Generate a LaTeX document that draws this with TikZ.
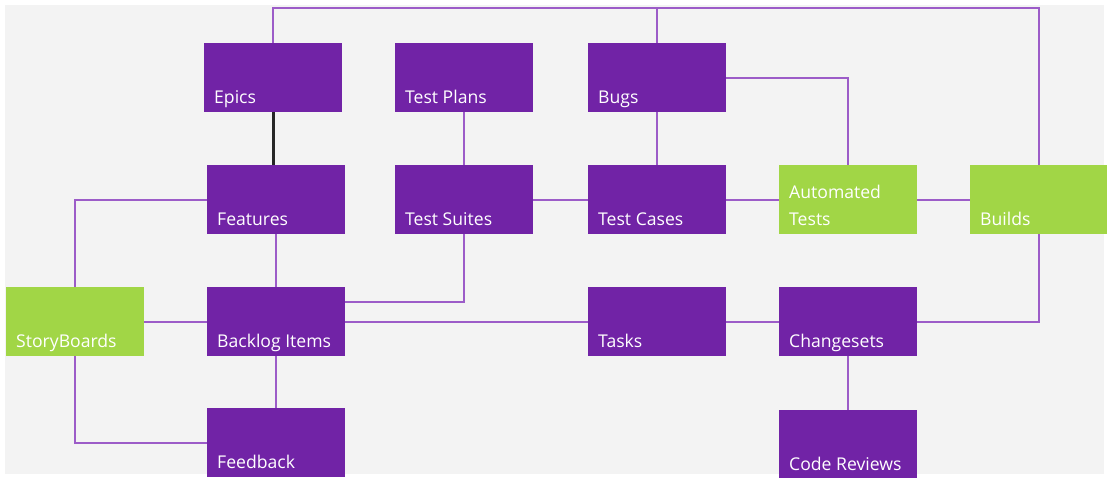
\documentclass[tikz,border=0pt]{standalone}
\usepackage{fontspec}
\setmainfont{Open Sans}
\definecolor{boxpurple}{RGB}{113,35,166}
\definecolor{boxgreen}{RGB}{161,214,70}
\definecolor{linepurple}{RGB}{156,92,200}
\definecolor{bggray}{RGB}{243,243,243}
\begin{document}
\begin{tikzpicture}[x=1pt,y=-1pt,
  box/.style={rectangle, minimum width=138pt, minimum height=69pt, inner sep=0pt, anchor=north west, fill=boxpurple},
  gbox/.style={box, fill=boxgreen},
  lbl/.style={anchor=base west, xshift=10pt, yshift=9pt, inner sep=0pt, text=white, font=\fontsize{17.6}{27}\selectfont, align=left},
  conn/.style={draw=linepurple, line width=2pt},
  blackconn/.style={draw=black!85, line width=3pt}]
\useasboundingbox (0,0) rectangle (1107,478);
\fill[white] (0,0) rectangle (1107,478);
\fill[bggray] (5,5) rectangle (1104,474);
% boxes
\node[box, label={[lbl]south west:Epics}] (epics) at (204,43) {};
\node[box, label={[lbl]south west:Test Plans}] (testplans) at (395,43) {};
\node[box, label={[lbl]south west:Bugs}] (bugs) at (588,43) {};
\node[box, label={[lbl]south west:Features}] (features) at (207,165) {};
\node[box, label={[lbl]south west:Test Suites}] (testsuites) at (395,165) {};
\node[box, label={[lbl]south west:Test Cases}] (testcases) at (588,165) {};
\node[gbox, label={[lbl]south west:Automated\\Tests}] (automated) at (779,165) {};
\node[gbox, label={[lbl]south west:Builds}] (builds) at (970,165) {};
\node[gbox, label={[lbl]south west:StoryBoards}] (storyboards) at (6,287) {};
\node[box, label={[lbl]south west:Backlog Items}] (backlog) at (207,287) {};
\node[box, label={[lbl]south west:Tasks}] (tasks) at (588,287) {};
\node[box, label={[lbl]south west:Changesets}] (changesets) at (779,287) {};
\node[box, label={[lbl]south west:Feedback}] (feedback) at (207,408) {};
\node[box, label={[lbl]south west:Code Reviews}] (codereviews) at (779,410) {};
\coordinate (top) at (0,8);
% connectors
\draw[conn] (epics.north) |- (builds.north |- top) -- (builds.north);
\draw[conn] (bugs.north) -- (bugs.north |- top);
\draw[blackconn] (epics.south) -- (epics.south |- features.north);
\draw[conn] (features.west) -| (storyboards.north);
\draw[conn] (features.south) -- (backlog.north);
\draw[conn] (storyboards.east) -- (backlog.west);
\draw[conn] (storyboards.south) |- (feedback.west);
\draw[conn] (backlog.south) -- (feedback.north);
\draw[conn] ([yshift=20pt]backlog.east) -| (testsuites.south);
\draw[conn] (backlog.east) -- (tasks.west);
\draw[conn] (tasks.east) -- (changesets.west);
\draw[conn] (changesets.east) -| (builds.south);
\draw[conn] (changesets.south) -- (codereviews.north);
\draw[conn] (testplans.south) -- (testsuites.north);
\draw[conn] (testsuites.east) -- (testcases.west);
\draw[conn] (bugs.south) -- (testcases.north);
\draw[conn] (testcases.east) -- (automated.west);
\draw[conn] (bugs.east) -| (automated.north);
\draw[conn] (automated.east) -- (builds.west);
\end{tikzpicture}
\end{document}
